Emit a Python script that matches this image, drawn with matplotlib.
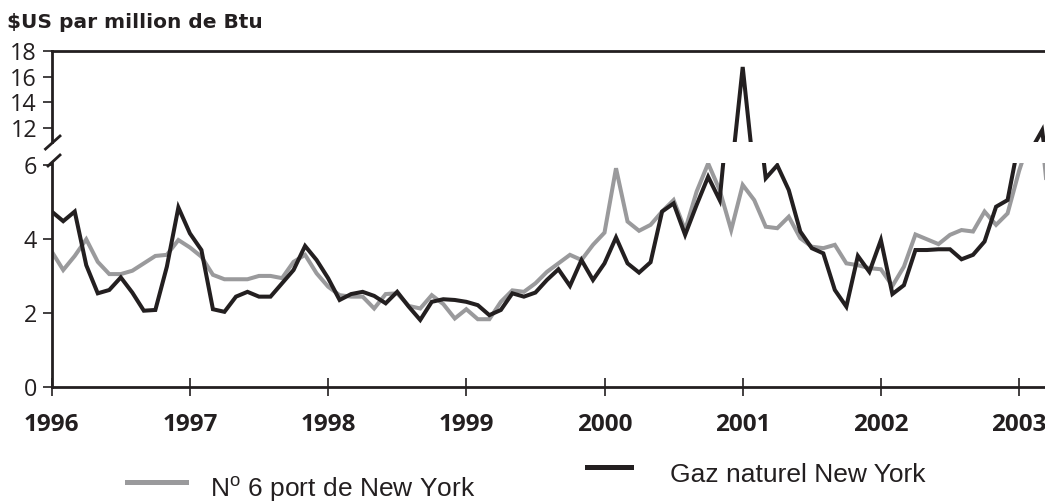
import matplotlib
matplotlib.use("Agg")
import matplotlib.pyplot as plt
from matplotlib.lines import Line2D
import numpy as np

# ---- data (monthly, Jan 1996 .. Apr 2003) ----
start_year = 1996
gas_ny = [4.75, 4.49, 4.75, 3.30, 2.54, 2.63, 2.97, 2.56, 2.07, 2.09, 3.26, 4.86,
          4.16, 3.71, 2.11, 2.04, 2.45, 2.58, 2.45, 2.45, 2.81, 3.17, 3.82, 3.44,
          2.95, 2.36, 2.52, 2.58, 2.47, 2.27, 2.58, 2.18, 1.82, 2.31, 2.38, 2.36,
          2.31, 2.22, 1.95, 2.09, 2.54, 2.45, 2.56, 2.90, 3.19, 2.74, 3.44, 2.90,
          3.35, 4.05, 3.35, 3.10, 3.38, 4.75, 4.97, 4.12, 4.93, 5.69, 5.06, 8.30,
          16.75, 8.30, 5.65, 6.00, 5.33, 4.21, 3.76, 3.62, 2.63, 2.18, 3.55, 3.12,
          3.98, 2.52, 2.76, 3.71, 3.71, 3.73, 3.73, 3.46, 3.58, 3.94, 4.88, 5.06,
          6.67, 10.2, 11.8, 5.0]
fuel_no6 = [3.67, 3.17, 3.55, 4.00, 3.39, 3.06, 3.06, 3.15, 3.35, 3.55, 3.58, 3.98,
            3.78, 3.53, 3.04, 2.92, 2.92, 2.92, 3.01, 3.01, 2.95, 3.39, 3.58, 3.08,
            2.72, 2.49, 2.45, 2.45, 2.13, 2.52, 2.54, 2.20, 2.13, 2.49, 2.25, 1.86,
            2.11, 1.84, 1.84, 2.31, 2.62, 2.58, 2.81, 3.12, 3.35, 3.58, 3.44, 3.85,
            4.18, 5.92, 4.48, 4.23, 4.39, 4.75, 5.06, 4.25, 5.29, 6.05, 5.33, 4.25,
            5.47, 5.06, 4.34, 4.30, 4.61, 4.03, 3.80, 3.76, 3.85, 3.35, 3.30, 3.22,
            3.19, 2.74, 3.26, 4.13, 4.00, 3.87, 4.12, 4.25, 4.21, 4.75, 4.39, 4.70,
            5.85, 6.80, 6.70, 3.60]
year_ticks = [1996, 1997, 1998, 1999, 2000, 2001, 2002, 2003]
low_ticks = [0, 2, 4, 6]
up_ticks = [12, 14, 16, 18]
title = "$US par million de Btu"
label_fuel = r"N$^{\mathrm{o}}$ 6 port de New York"
label_gas = "Gaz naturel New York"

plt.rcParams['mathtext.fontset'] = 'custom'
plt.rcParams['mathtext.rm'] = 'Liberation Sans'
plt.rcParams['mathtext.it'] = 'Liberation Sans'

BLACK = "#231f20"
GRAY = "#9a9a9c"
W, H = 1045, 504

x = start_year + np.arange(len(gas_ny)) / 12.0

fig = plt.figure(figsize=(W / 100, H / 100), dpi=100)

def fx(px):
    return px / W

def fy(py):
    return 1 - py / H

left = 51.7
ax_low = fig.add_axes([fx(left), fy(387.3), 1 - fx(left), (387.3 - 162.7) / H])
ax_up = fig.add_axes([fx(left), fy(142), 1 - fx(left), (142 - 51) / H])

xmax = 1996 + (W - left) / 138.2
for ax in (ax_low, ax_up):
    ax.plot(x, fuel_no6, color=GRAY, lw=2.9, solid_joinstyle='miter', zorder=2)
    ax.plot(x, gas_ny, color=BLACK, lw=2.9, solid_joinstyle='miter', zorder=3)
    ax.set_xlim(1996, xmax)
    ax.spines['right'].set_visible(False)
    for s in ax.spines.values():
        s.set_linewidth(2.0)
        s.set_color(BLACK)
    ax.tick_params(axis='y', direction='out', length=6.5, width=1.2, color=BLACK,
                   pad=4, labelsize=16.8, labelcolor=BLACK)
    ax.patch.set_alpha(0)

ax_low.set_ylim(0, 6.07)
ax_low.spines['top'].set_visible(False)
ax_low.set_yticks(low_ticks)
ax_low.set_yticklabels([str(v) for v in low_ticks], family='Open Sans', fontsize=16.8)
ax_low.set_xticks(year_ticks)
ax_low.set_xticklabels([str(y) for y in year_ticks], family='Open Sans',
                       fontweight='bold', fontsize=17.5, color=BLACK)
ax_low.tick_params(axis='x', direction='inout', length=13, width=1.2, color=BLACK, pad=12)

ax_up.set_ylim(18 - (142 - 51) / 12.8, 18)
ax_up.spines['bottom'].set_visible(False)
ax_up.set_yticks(up_ticks)
ax_up.set_yticklabels([str(v) for v in up_ticks], family='Open Sans', fontsize=16.8)
ax_up.set_xticks([])

# break marks on the y axis
fig.add_artist(Line2D([fx(45.5), fx(60)], [fy(149), fy(136)], color=BLACK, lw=2.0))
fig.add_artist(Line2D([fx(48), fx(60)], [fy(166), fy(155)], color=BLACK, lw=2.0))

fig.text(fx(7), fy(28), title, family='DejaVu Sans', fontweight='bold', fontsize=14.5,
         color=BLACK, va='baseline', ha='left')

# legend
fig.add_artist(Line2D([fx(127), fx(186)], [fy(482), fy(482)], color=GRAY, lw=3.6))
fig.text(fx(210), fy(497), label_fuel, family='Liberation Sans', fontsize=19,
         color=BLACK, va='baseline', ha='left')
fig.add_artist(Line2D([fx(587), fx(631)], [fy(467), fy(467)], color=BLACK, lw=3.6))
fig.text(fx(670), fy(482), label_gas, family='Liberation Sans', fontsize=19,
         color=BLACK, va='baseline', ha='left')

fig.savefig("out.png", dpi=100)
